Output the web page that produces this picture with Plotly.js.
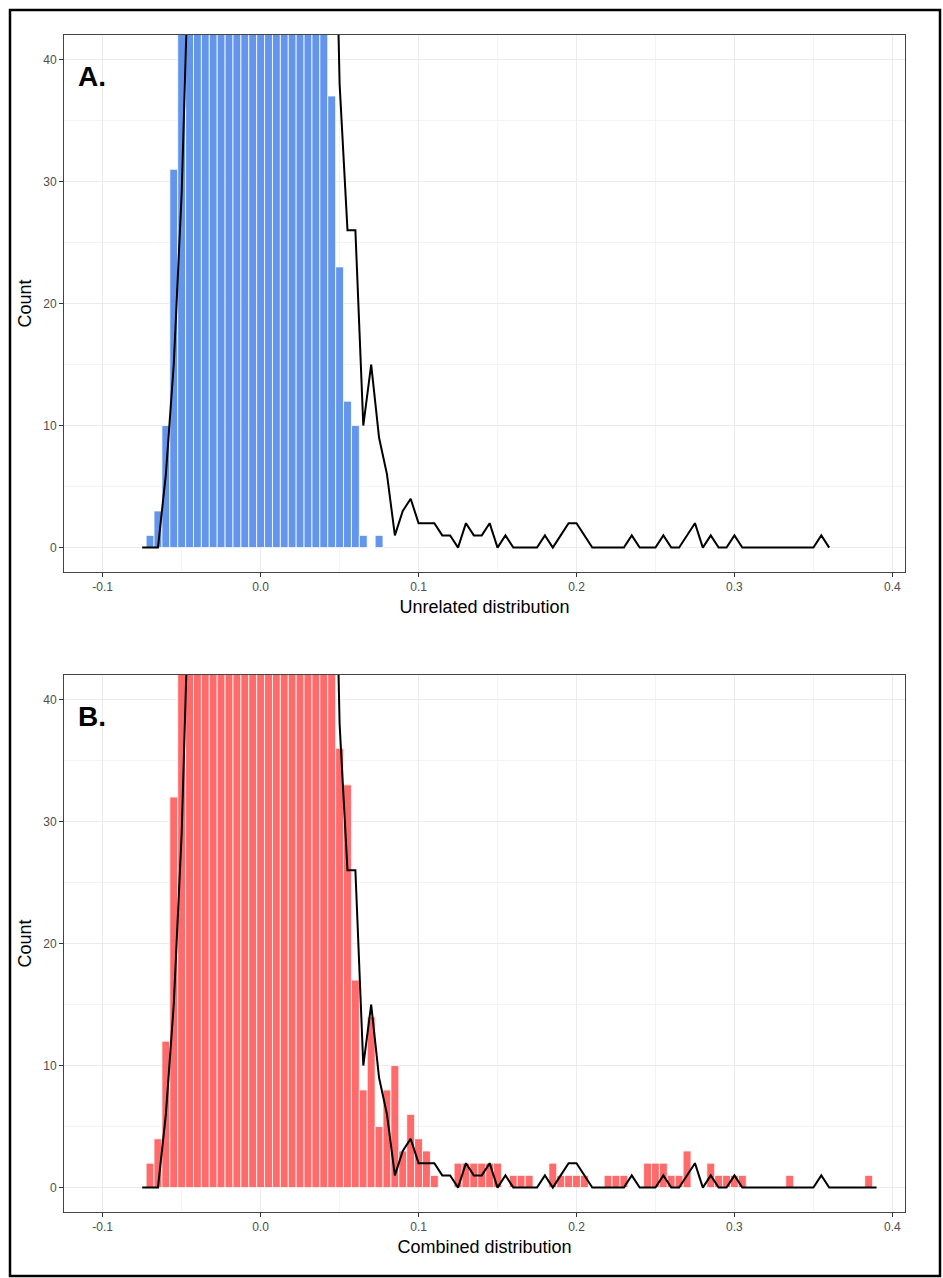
<!DOCTYPE html>
<html><head><meta charset="utf-8">
<script src="https://cdn.plot.ly/plotly-3.0.1.min.js"></script>
<style>html,body{margin:0;padding:0;background:#fff}#chart{width:943px;height:1278px}</style>
</head><body><div id="chart"></div><script>
// ---- data ----
const blueX = [-0.070,-0.065,-0.060,-0.055,-0.050,-0.045,-0.040,-0.035,-0.030,-0.025,-0.020,-0.015,-0.010,-0.005,0.000,0.005,0.010,0.015,0.020,0.025,0.030,0.035,0.040,0.045,0.050,0.055,0.060,0.065,0.070,0.075];
const blueCounts = [1,3,10,31,62,80,98,112,124,133,140,144,146,145,142,136,128,118,106,92,78,64,50,37,23,12,10,1,0,1];

const redX = [-0.070,-0.065,-0.060,-0.055,-0.050,-0.045,-0.040,-0.035,-0.030,-0.025,-0.020,-0.015,-0.010,-0.005,0.000,0.005,0.010,0.015,0.020,0.025,0.030,0.035,0.040,0.045,
 0.050,0.055,0.060,0.065,0.070,0.075,0.080,0.085,0.090,0.095,
 0.100,0.105,0.110,0.115,0.120,0.125,0.130,0.135,0.140,0.145,
 0.150,0.155,0.160,0.165,0.170,0.175,0.180,0.185,0.190,0.195,
 0.200,0.205,0.210,0.215,0.220,0.225,0.230,0.235,0.240,0.245,
 0.250,0.255,0.260,0.265,0.270,0.275,0.280,0.285,0.290,0.295,
 0.300,0.305,0.310,0.315,0.320,0.325,0.330,0.335,0.340,0.345,
 0.350,0.355,0.360,0.365,0.370,0.375,0.380,0.385];
const redCounts = [2,4,12,32,64,82,100,114,126,135,142,146,148,147,144,138,130,120,108,95,82,68,55,45,
 36,33,17,8,14,5,8,10,3,6,
 4,3,1,0,0,2,2,2,2,2,
 2,0,1,1,1,0,0,2,1,1,
 1,1,0,0,1,1,1,0,0,2,
 2,2,1,1,3,0,0,2,1,1,
 1,1,0,0,0,0,0,1,0,0,
 0,0,0,0,0,0,0,1];

const lineX = [-0.075,-0.070,-0.065,-0.060,-0.055,-0.050,-0.045,-0.040,-0.035,-0.030,
 -0.025,-0.020,-0.015,-0.010,-0.005,0.000,0.005,0.010,0.015,0.020,
 0.025,0.030,0.035,0.040,0.045,0.050,0.055,0.060,0.065,0.070,
 0.075,0.080,0.085,0.090,0.095,0.100,0.105,0.110,0.115,0.120,
 0.125,0.130,0.135,0.140,0.145,0.150,0.155,0.160,0.165,0.170,
 0.175,0.180,0.185,0.190,0.195,0.200,0.205,0.210,0.215,0.220,
 0.225,0.230,0.235,0.240,0.245,0.250,0.255,0.260,0.265,0.270,
 0.275,0.280,0.285,0.290,0.295,0.300,0.305,0.310,0.315,0.320,
 0.325,0.330,0.335,0.340,0.345,0.350,0.355,0.360];
const lineY = [0,0,0,6,15,29,65,80,96,112,
 126,136,143,147,149,148,145,140,133,124,
 113,101,89,78,68,38,26,26,10,15,
 9,6,1,3,4,2,2,2,1,1,
 0,2,1,1,2,0,1,0,0,0,
 0,1,0,1,2,2,1,0,0,0,
 0,0,1,0,0,0,1,0,0,1,
 2,0,1,0,0,1,0,0,0,0,
 0,0,0,0,0,0,1,0];
const lineTailX = [0.365,0.370,0.375,0.380,0.385,0.390];
const lineTailY = [0,0,0,0,0,0];

const xTickVals = [-0.1,0.0,0.1,0.2,0.3,0.4];
const xTickLabels = ["-0.1","0.0","0.1","0.2","0.3","0.4"];
const xMinorVals = [-0.05,0.05,0.15,0.25,0.35];
const yTickVals = [0,10,20,30,40];
const yTickLabels = ["0","10","20","30","40"];
const yMinorVals = [5,15,25,35];

const xTitleA = "Unrelated distribution";
const xTitleB = "Combined distribution";
const yTitle = "Count";
const panelLabels = ["A.","B."];

// ---- styling ----
const FONT = "'Liberation Sans', Arial, sans-serif";
function xAxis(anchor, title){
  return {anchor:anchor, domain:[0,1], range:[-0.1245,0.408],
    tickmode:'array', tickvals:xTickVals, ticktext:xTickLabels,
    ticks:'outside', ticklen:4, tickwidth:1, tickcolor:'#333',
    tickfont:{family:FONT, size:12, color:'#4d4d4d'},
    showgrid:true, gridcolor:'#ebebeb', gridwidth:1.1,
    minor:{tickmode:'array', tickvals:xMinorVals, showgrid:true, gridcolor:'#f0f0f0', gridwidth:0.8, ticks:''},
    showline:true, linecolor:'#444', linewidth:1, mirror:true, zeroline:false,
    title:{text:title, font:{family:FONT, size:18, color:'#000'}, standoff:6}};
}
function yAxis(anchor, domain){
  return {anchor:anchor, domain:domain, range:[-2,42],
    tickmode:'array', tickvals:yTickVals, ticktext:yTickLabels,
    ticks:'outside', ticklen:4, tickwidth:1, tickcolor:'#333',
    tickfont:{family:FONT, size:12, color:'#4d4d4d'},
    showgrid:true, gridcolor:'#ebebeb', gridwidth:1.1,
    minor:{tickmode:'array', tickvals:yMinorVals, showgrid:true, gridcolor:'#f0f0f0', gridwidth:0.8, ticks:''},
    showline:true, linecolor:'#444', linewidth:1, mirror:true, zeroline:false,
    title:{text:yTitle, font:{family:FONT, size:18, color:'#000'}, standoff:6}};
}

const traces = [
  {type:'bar', x:blueX, y:blueCounts, width:0.005, xaxis:'x', yaxis:'y',
   marker:{color:'#6495ED', line:{color:'#ffffff', width:0.8}}, hoverinfo:'x+y', showlegend:false},
  {type:'scatter', mode:'lines', x:lineX, y:lineY, xaxis:'x', yaxis:'y',
   line:{color:'#000000', width:2}, showlegend:false},
  {type:'bar', x:redX, y:redCounts, width:0.005, xaxis:'x2', yaxis:'y2',
   marker:{color:'#FF6A6A', line:{color:'#ffffff', width:0.8}}, hoverinfo:'x+y', showlegend:false},
  {type:'scatter', mode:'lines', x:lineX.concat(lineTailX), y:lineY.concat(lineTailY), xaxis:'x2', yaxis:'y2',
   line:{color:'#000000', width:2}, showlegend:false}
];

const W=943, H=1278, ML=64, MR=38, MT=35, MB=66;
const PW = W-ML-MR, PH = H-MT-MB;
function px2paperX(p){ return (p-ML)/PW; }
function px2paperY(p){ return (H-MB-p)/PH; }

const layout = {
  width:W, height:H, paper_bgcolor:'#ffffff', plot_bgcolor:'#ffffff',
  margin:{l:ML, r:MR, t:MT, b:MB, pad:0},
  bargap:0, showlegend:false,
  xaxis: xAxis('y', xTitleA),
  yaxis: yAxis('x', [px2paperY(572), 1]),
  xaxis2: xAxis('y2', xTitleB),
  yaxis2: yAxis('x2', [0, px2paperY(675)]),
  annotations:[
    {xref:'x', yref:'y', x:-0.117, y:38.6, xanchor:'left', yanchor:'middle', showarrow:false,
     text:'<b>'+panelLabels[0]+'</b>', font:{family:FONT, size:28, color:'#000'}},
    {xref:'x2', yref:'y2', x:-0.117, y:38.6, xanchor:'left', yanchor:'middle', showarrow:false,
     text:'<b>'+panelLabels[1]+'</b>', font:{family:FONT, size:28, color:'#000'}}
  ],
  shapes:[
    {type:'rect', xref:'paper', yref:'paper', x0:px2paperX(10), x1:px2paperX(940), y0:px2paperY(1276), y1:px2paperY(10),
     line:{color:'#000', width:2.5}, fillcolor:'rgba(0,0,0,0)', layer:'above'}
  ]
};

Plotly.newPlot('chart', traces, layout, {displayModeBar:false, staticPlot:true});
</script></body></html>
